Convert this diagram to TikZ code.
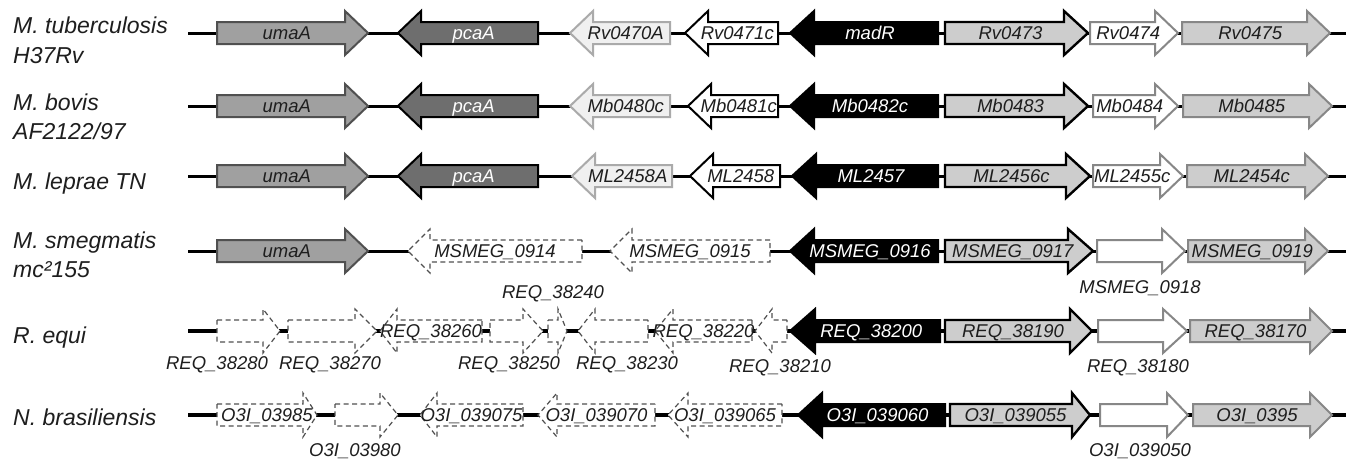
\documentclass[tikz,border=0pt]{standalone}
\usepackage{fontspec}
\setmainfont{Liberation Sans}
\definecolor{cUma}{RGB}{160,160,160}
\definecolor{cUmaB}{RGB}{80,80,80}
\definecolor{cPca}{RGB}{110,110,110}
\definecolor{cPale}{RGB}{240,240,240}
\definecolor{cPaleB}{RGB}{170,170,170}
\definecolor{cLt}{RGB}{205,205,205}
\definecolor{cGrB}{RGB}{135,135,135}
\definecolor{txt}{RGB}{30,30,30}
\definecolor{cDash}{RGB}{80,80,80}
% solid right / left arrows with label
\newcommand\gR[8]{%
  \draw[#5] (#1,#4-11) -- (#2,#4-11) -- (#2,#4-22) -- (#3,#4) -- (#2,#4+22) -- (#2,#4+11) -- (#1,#4+11) -- cycle;
  \node[gt,#6] (#7) at ({((#1+#3)/2+(#1+#2)/2)/2},#4+6.6) {#8};}
\newcommand\gL[8]{%
  \draw[#5] (#3,#4-11) -- (#2,#4-11) -- (#2,#4-22) -- (#1,#4) -- (#2,#4+22) -- (#2,#4+11) -- (#3,#4+11) -- cycle;
  \node[gt,#6] (#7) at ({((#1+#3)/2+(#2+#3)/2)/2},#4+6.6) {#8};}
% dashed arrows with label centred on whole arrow
\newcommand\dR[6]{%
  \draw[dsh] (#1,#4-11) -- (#2,#4-11) -- (#2,#4-22) -- (#3,#4) -- (#2,#4+22) -- (#2,#4+11) -- (#1,#4+11) -- cycle;
  \node[gt,dk] (#5) at ({(#1+#3)/2},#4+6.6) {#6};}
\newcommand\dL[6]{%
  \draw[dsh] (#3,#4-11) -- (#2,#4-11) -- (#2,#4-22) -- (#1,#4) -- (#2,#4+22) -- (#2,#4+11) -- (#3,#4+11) -- cycle;
  \node[gt,dk] (#5) at ({(#1+#3)/2},#4+6.6) {#6};}
% arrows without label inside
\newcommand\aR[5]{%
  \draw[#5] (#1,#4-11) -- (#2,#4-11) -- (#2,#4-22) -- (#3,#4) -- (#2,#4+22) -- (#2,#4+11) -- (#1,#4+11) -- cycle;}
\newcommand\aL[5]{%
  \draw[#5] (#3,#4-11) -- (#2,#4-11) -- (#2,#4-22) -- (#1,#4) -- (#2,#4+22) -- (#2,#4+11) -- (#3,#4+11) -- cycle;}
\begin{document}
\begin{tikzpicture}[x=1pt,y=-1pt,
  gt/.style={font=\fontsize{18.5}{20}\selectfont\itshape, inner sep=0pt, anchor=base},
  dk/.style={text=txt},
  wt/.style={text=white},
  lab/.style={font=\fontsize{23}{28}\selectfont\itshape, inner sep=0pt, anchor=base west, text=txt},
  bb/.style={line width=3pt, black},
  bbt/.style={line width=4pt, black},
  uma/.style={fill=cUma, draw=cUmaB, line width=2pt},
  pca/.style={fill=cPca, draw=black, line width=2pt},
  pale/.style={fill=cPale, draw=cPaleB, line width=2pt},
  wb/.style={fill=white, draw=black, line width=2pt},
  blk/.style={fill=black, draw=black, line width=2pt},
  ltb/.style={fill=cLt, draw=black, line width=2.4pt},
  wg/.style={fill=white, draw=cGrB, line width=2pt},
  ltg/.style={fill=cLt, draw=cGrB, line width=2pt},
  dsh/.style={fill=white, draw=cDash, line width=1.2pt, dash pattern=on 5pt off 3.5pt}
]
\useasboundingbox[fill=white] (0,0) rectangle (1346,458);

% row labels
\node[lab] (n1a) at (13,33) {M. tuberculosis};
\node[lab] (n1b) at (13,63) {H37Rv};
\node[lab] (n2a) at (13,110) {M. bovis};
\node[lab] (n2b) at (13,139) {AF2122/97};
\node[lab] (n3a) at (13,189) {M. leprae TN};
\node[lab] (n4a) at (13,248) {M. smegmatis};
\node[lab] (n4b) at (13,277) {mc²155};
\node[lab] (n5a) at (13,343) {R. equi};
\node[lab] (n6a) at (13,425) {N. brasiliensis};

% backbones
\draw[bb] (188,33) -- (1346,33);
\draw[bb] (188,106) -- (1346,106);
\draw[bb] (188,176) -- (1346,176);
\draw[bb] (188,251) -- (1346,251);
\draw[bbt] (188,331) -- (1346,331);
\draw[bbt] (188,415) -- (1346,415);

% row 1
\gR{217}{345}{368}{33}{uma}{dk}{g1a}{umaA}
\gL{398}{421}{538}{33}{pca}{wt}{g1b}{pcaA}
\gL{570}{593}{670}{33}{pale}{dk}{g1c}{Rv0470A}
\gL{685}{708}{778}{33}{wb}{dk}{g1d}{Rv0471c}
\gL{790}{814}{938}{33}{blk}{wt}{g1e}{madR}
\gR{945}{1064}{1088}{33}{ltb}{dk}{g1f}{Rv0473}
\gR{1090}{1155}{1178}{33}{wg}{dk}{g1g}{Rv0474}
\gR{1182}{1307}{1330}{33}{ltg}{dk}{g1h}{Rv0475}

% row 2
\gR{217}{345}{368}{106}{uma}{dk}{g2a}{umaA}
\gL{398}{421}{538}{106}{pca}{wt}{g2b}{pcaA}
\gL{570}{593}{670}{106}{pale}{dk}{g2c}{Mb0480c}
\gL{688}{711}{778}{106}{wb}{dk}{g2d}{Mb0481c}
\gL{790}{814}{938}{106}{blk}{wt}{g2e}{Mb0482c}
\gR{945}{1064}{1088}{106}{ltb}{dk}{g2f}{Mb0483}
\gR{1093}{1155}{1178}{106}{wg}{dk}{g2g}{Mb0484}
\gR{1183}{1309}{1332}{106}{ltg}{dk}{g2h}{Mb0485}

% row 3
\gR{217}{345}{368}{176}{uma}{dk}{g3a}{umaA}
\gL{398}{421}{538}{176}{pca}{wt}{g3b}{pcaA}
\gL{572}{595}{672}{176}{pale}{dk}{g3c}{ML2458A}
\gL{690}{713}{780}{176}{wb}{dk}{g3d}{ML2458}
\gL{792}{816}{938}{176}{blk}{wt}{g3e}{ML2457}
\gR{945}{1066}{1090}{176}{ltb}{dk}{g3f}{ML2456c}
\gR{1093}{1160}{1183}{176}{wg}{dk}{g3g}{ML2455c}
\gR{1187}{1305}{1328}{176}{ltg}{dk}{g3h}{ML2454c}

% row 4
\gR{217}{345}{368}{251}{uma}{dk}{g4a}{umaA}
\dL{408}{430}{582}{251}{g4b}{MSMEG\_0914}
\dL{610}{632}{770}{251}{g4c}{MSMEG\_0915}
\gL{790}{814}{938}{251}{blk}{wt}{g4d}{MSMEG\_0916}
\gR{945}{1068}{1093}{251}{ltb}{dk}{g4e}{MSMEG\_0917}
\aR{1097}{1162}{1185}{251}{wg}
\gR{1188}{1305}{1328}{251}{ltg}{dk}{g4g}{MSMEG\_0919}
\node[gt,dk] (t4f) at (1140,293.6) {MSMEG\_0918};

% row 5
\aR{217}{263}{280}{331}{dsh}
\aR{288}{355}{377}{331}{dsh}
\dL{380}{397}{482}{331}{g5c}{REQ\_38260}
\aR{490}{523}{543}{331}{dsh}
\aR{548}{558}{567}{331}{dsh}
\aL{578}{595}{648}{331}{dsh}
\dL{655}{673}{752}{331}{g5g}{REQ\_38220}
\aL{755}{772}{787}{331}{dsh}
\gL{790}{815}{940}{331}{blk}{wt}{g5i}{REQ\_38200}
\gR{945}{1070}{1092}{331}{ltb}{dk}{g5j}{REQ\_38190}
\aR{1098}{1163}{1187}{331}{wg}
\gR{1190}{1310}{1332}{331}{ltg}{dk}{g5l}{REQ\_38170}
\node[gt,dk] (t5a) at (217,369.6) {REQ\_38280};
\node[gt,dk] (t5b) at (330,369.6) {REQ\_38270};
\node[gt,dk] (t5d) at (509,369.6) {REQ\_38250};
\node[gt,dk] (t5e) at (553,298.6) {REQ\_38240};
\node[gt,dk] (t5f) at (627,369.6) {REQ\_38230};
\node[gt,dk] (t5h) at (780,372.6) {REQ\_38210};
\node[gt,dk] (t5k) at (1138,372.6) {REQ\_38180};

% row 6
\dR{217}{303}{317}{415}{g6a}{O3I\_03985}
\aR{335}{380}{398}{415}{dsh}
\dL{420}{437}{523}{415}{g6c}{O3I\_039075}
\dL{538}{557}{655}{415}{g6d}{O3I\_039070}
\dL{668}{688}{782}{415}{g6e}{O3I\_039065}
\gL{798}{822}{945}{415}{blk}{wt}{g6f}{O3I\_039060}
\gR{950}{1072}{1090}{415}{ltb}{dk}{g6g}{O3I\_039055}
\aR{1100}{1167}{1188}{415}{wg}
\gR{1193}{1310}{1332}{415}{ltg}{dk}{g6i}{O3I\_0395}
\node[gt,dk] (t6b) at (355,456.6) {O3I\_03980};
\node[gt,dk] (t6h) at (1140,456.6) {O3I\_039050};
\end{tikzpicture}
\end{document}
